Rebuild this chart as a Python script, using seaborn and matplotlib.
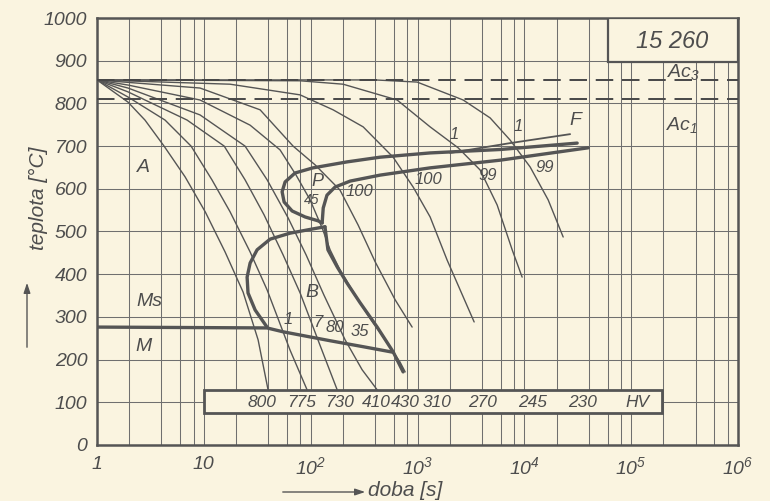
import numpy as np
import pandas as pd
import matplotlib
matplotlib.use("Agg")
import matplotlib.pyplot as plt
from matplotlib.patches import Rectangle, FancyArrowPatch
import seaborn as sns

# ---------------- data (time [s], temperature [°C]) ----------------
hv800_t = [1, 1.95, 2.81, 4.24, 6.67, 10.3, 15.8, 23.3, 32.2, 39.9]
hv800_T = [855, 803, 761, 700, 628, 546, 452, 358, 246, 129]
hv775_t = [1, 1.95, 4.33, 7.59, 11.9, 17.6, 27.1, 39.1, 64.1, 92.5]
hv775_T = [855, 815, 761, 700, 621, 546, 452, 363, 222, 129]
hv730_t = [1, 1.95, 6.96, 15.5, 24.3, 36.6, 55.2, 79.6, 122, 177]
hv730_T = [855, 827, 761, 700, 621, 539, 445, 356, 234, 129]
hv410_t = [1, 1.95, 9.21, 24.3, 39.1, 61.4, 90.6, 133, 210, 303, 419]
hv410_T = [855, 836, 773, 700, 621, 532, 445, 351, 246, 176, 129]
hv430_t = [1, 1.95, 9.21, 27.1, 51.7, 73, 98.7, 128, 152, 188, 244, 343, 497, 686, 766]
hv430_T = [855, 843, 808, 749, 691, 632, 574, 508, 457, 410, 363, 304, 246, 194, 171]
hv310_t = [1, 9.21, 33.6, 68.4, 110, 188, 278, 401, 617, 890]
hv310_T = [855, 836, 785, 700, 656, 597, 515, 429, 340, 276]
hv270_t = [1, 17.6, 79.6, 162, 310, 591, 910, 1312, 1892, 3388]
hv270_T = [855, 845, 820, 785, 745, 674, 604, 534, 433, 288]
hv245_t = [1, 79.6, 201, 644, 1312, 2399, 3855, 5563, 7690, 9530]
hv245_T = [855, 853, 845, 808, 745, 696, 644, 562, 457, 393]
hv230_t = [1, 400, 991, 2674, 4783, 7362, 11330, 16700, 23080]
hv230_T = [855, 855, 850, 808, 766, 714, 651, 574, 487]

# transformation lines
ps_t = [31200, 5930, 1312, 446, 219, 105, 71.4, 57.6, 54, 56.4, 67, 88.6, 117, 128]
ps_T = [707, 692, 684, 674, 663, 649, 637, 616, 593, 569, 548, 534, 525, 520]
pf_t = [128, 131, 142, 169, 234, 446, 1312, 5930, 39600]
pf_T = [520, 555, 585, 604, 618, 632, 649, 667, 696]
f_t = [2020, 7360, 26800]
f_T = [684, 707, 728]
bs_t = [136, 105, 64, 41.7, 31.5, 27.1, 25.4, 25.9, 30.2, 39]
bs_T = [511, 506, 496, 482, 457, 426, 393, 356, 316, 276]
bf_t = [136, 145, 177, 219, 290, 419, 591, 733]
bf_T = [511, 457, 417, 379, 333, 276, 218, 171]
ms_t = [1, 39, 55, 152, 310, 591]
ms_T = [276, 274, 265, 244, 230, 217]

ac3 = 855
ac1 = 810

hv_labels = ["800", "775", "730", "410", "430", "310", "270", "245", "230", "HV"]
hv_label_t = [35, 83, 188, 410, 775, 1530, 4030, 11830, 34800, 113800]
hv_label_T = 100

x_ticks = [1, 10, 1e2, 1e3, 1e4, 1e5, 1e6]
x_ticklabels = ["1", "10", r"$10^2$", r"$10^3$", r"$10^4$", r"$10^5$", r"$10^6$"]
y_ticks = list(range(0, 1001, 100))

region_labels = [("A", 2.7, 651, 14), ("Ms", 3.1, 335, 14), ("M", 2.7, 230, 14),
                 ("P", 115, 616, 13), ("45", 103, 574, 10), ("B", 103, 356, 14),
                 ("F", 29900, 761, 14)]
pct_labels = [("100", 289, 593), ("100", 1260, 621), ("1", 2200, 728), ("1", 8750, 745),
              ("99", 4490, 632), ("99", 15660, 649), ("1", 61.4, 293), ("7", 117, 286),
              ("80", 169, 274), ("35", 289, 265)]

# ---------------- style ----------------
BG = "#faf4e0"
INK = "#555555"
TXT = "#4d4d4d"

sns.set_theme(style="white")
plt.rcParams["font.family"] = ["Liberation Sans", "DejaVu Sans"]
plt.rcParams["font.style"] = "italic"
plt.rcParams["mathtext.fontset"] = "custom"
plt.rcParams["mathtext.rm"] = "Liberation Sans:italic"
plt.rcParams["mathtext.it"] = "Liberation Sans:italic"

fig = plt.figure(figsize=(7.7, 5.01), dpi=100, facecolor=BG)
ax = fig.add_axes([0.126, 0.112, 0.8325, 0.852])
ax.set_facecolor(BG)
ax.set_xscale("log")
ax.set_xlim(1, 1e6)
ax.set_ylim(0, 1000)

minor = [m * 10 ** k for k in range(0, 6) for m in (2, 4, 6, 8)]
ax.set_xticks(x_ticks)
ax.set_xticks(minor, minor=True)
ax.set_xticklabels(x_ticklabels)
ax.set_xticklabels([], minor=True)
ax.set_yticks(y_ticks)
ax.set_yticklabels([str(v) for v in y_ticks])
ax.tick_params(which="both", length=0)
ax.tick_params(axis="x", pad=8, labelsize=14, labelcolor=TXT)
ax.tick_params(axis="y", pad=7, labelsize=14, labelcolor=TXT)
ax.grid(which="both", color="#6f6f6f", lw=0.75, zorder=0)
for s in ax.spines.values():
    s.set_color(INK)
    s.set_linewidth(1.8)

# cooling curves
curves = {"800": (hv800_t, hv800_T), "775": (hv775_t, hv775_T), "730": (hv730_t, hv730_T),
          "410": (hv410_t, hv410_T), "430": (hv430_t, hv430_T), "310": (hv310_t, hv310_T),
          "270": (hv270_t, hv270_T), "245": (hv245_t, hv245_T), "230": (hv230_t, hv230_T)}
rows = []
for name, (tt, TT) in curves.items():
    for i, (a, b) in enumerate(zip(tt, TT)):
        rows.append({"curve": name, "order": i, "t": a, "T": b})
df_cool = pd.DataFrame(rows)
sns.lineplot(data=df_cool, x="t", y="T", units="curve", estimator=None, sort=False,
             color=INK, lw=1.0, ax=ax, zorder=3)

# thick transformation lines
thick = {"ps": (ps_t, ps_T), "pf": (pf_t, pf_T), "bs": (bs_t, bs_T),
         "bf": (bf_t, bf_T), "ms": (ms_t, ms_T)}
rows = []
for name, (tt, TT) in thick.items():
    for a, b in zip(tt, TT):
        rows.append({"line": name, "t": a, "T": b})
df_thick = pd.DataFrame(rows)
sns.lineplot(data=df_thick, x="t", y="T", units="line", estimator=None, sort=False,
             color=INK, lw=2.4, ax=ax, zorder=4)
sns.lineplot(x=f_t, y=f_T, color=INK, lw=1.3, ax=ax, zorder=4)

# Ac lines
ax.axhline(ac3, color="#474747", lw=1.4, dashes=(9, 4.5), zorder=5)
ax.axhline(ac1, color="#474747", lw=1.4, dashes=(9, 4.5), zorder=5)
ax.text(3.07e5, 874, r"$Ac_3$", ha="center", va="center", fontsize=14, color=TXT, zorder=6)
ax.text(3.0e5, 749, r"$Ac_1$", ha="center", va="center", fontsize=14, color=TXT, zorder=6)

# title box
ax.add_patch(Rectangle((6.0e4, 897), 1e6 - 6.0e4, 103, facecolor=BG, edgecolor=INK,
                       lw=1.6, zorder=6))
ax.text(2.42e5, 946, "15 260", ha="center", va="center", fontsize=17, color=TXT, zorder=7)

# hardness box
ax.add_patch(Rectangle((10, 75), 1.95e5 - 10, 54, facecolor=BG, edgecolor=INK,
                       lw=2.0, zorder=6))
for lab, tx in zip(hv_labels, hv_label_t):
    ax.text(tx, hv_label_T, lab, ha="center", va="center", fontsize=12.5, color=TXT, zorder=7)

for lab, tx, ty, fs in region_labels:
    ax.text(tx, ty, lab, ha="center", va="center", fontsize=fs, color=TXT, zorder=7)
for lab, tx, ty in pct_labels:
    ax.text(tx, ty, lab, ha="center", va="center", fontsize=12, color=TXT, zorder=7)

ax.set_xlabel("")
ax.set_ylabel("")

# axis titles with arrows
fig.text(38 / 770, 1 - 198 / 501, "teplota [°C]", rotation=90, ha="center", va="center",
         fontsize=15, color=TXT)
fig.text(405 / 770, 1 - 481 / 501, "doba [s]", ha="center", va="top", fontsize=15, color=TXT)
fig.patches.append(FancyArrowPatch(
    (27 / 770, 1 - 350 / 501), (27 / 770, 1 - 280 / 501), transform=fig.transFigure,
    arrowstyle="-|>,head_length=6,head_width=2", color=INK, lw=1.0))
fig.patches.append(FancyArrowPatch(
    (280 / 770, 1 - 492 / 501), (368 / 770, 1 - 492 / 501), transform=fig.transFigure,
    arrowstyle="-|>,head_length=6,head_width=2", color=INK, lw=1.0))

fig.savefig("out.png", dpi=100, facecolor=BG)
